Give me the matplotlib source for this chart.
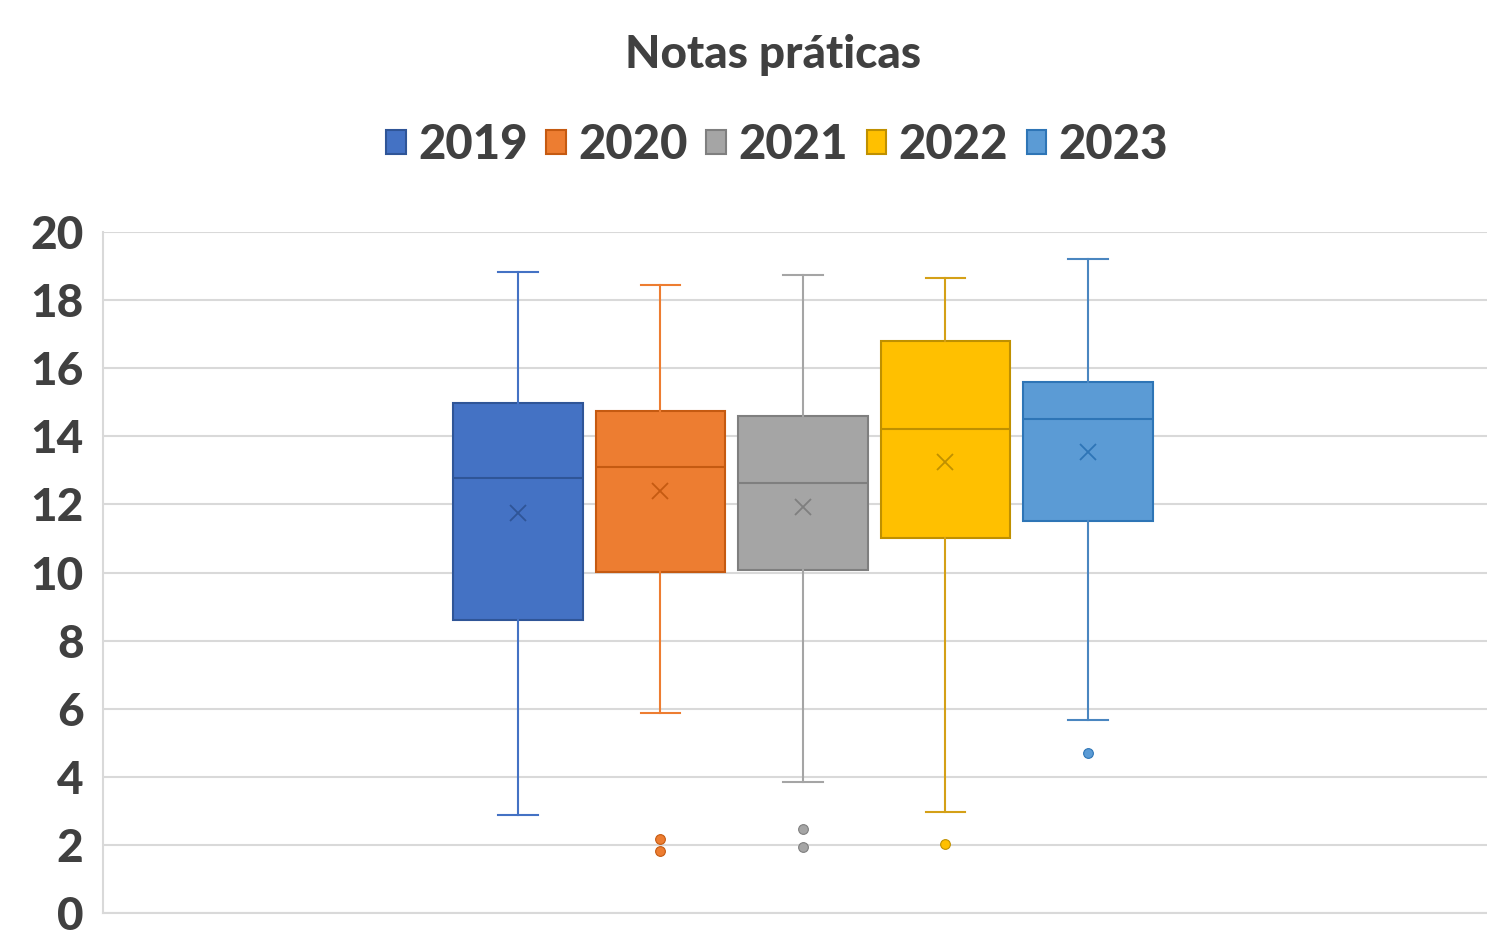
import matplotlib
matplotlib.use("Agg")
import matplotlib.pyplot as plt
from matplotlib.patches import Patch

years = ["2019", "2020", "2021", "2022", "2023"]
whislo = [2.88, 5.87, 3.85, 2.97, 5.67]
q1 = [8.6, 10.01, 10.07, 11.01, 11.51]
med = [12.78, 13.10, 12.63, 14.21, 14.51]
mean = [11.75, 12.39, 11.92, 13.25, 13.54]
q3 = [14.98, 14.74, 14.6, 16.8, 15.6]
whishi = [18.83, 18.44, 18.74, 18.65, 19.21]
fliers = [[], [2.17, 1.82], [2.47, 1.94], [2.03], [4.70]]

colors = ["#4472C4", "#ED7D31", "#A5A5A5", "#FFC000", "#5B9BD5"]
edges = ["#2F5597", "#C55A11", "#7F7F7F", "#BF9000", "#2E75B6"]
lines = ["#4472C4", "#ED7D31", "#A5A5A5", "#D4A017", "#4A86C0"]

plt.rcParams['font.family'] = ['Lato', 'DejaVu Sans']
fig = plt.figure(figsize=(14.87, 9.31), dpi=100)
ax = fig.add_axes([103/1487, (931-913)/931, (1503-103)/1487, (913-232)/931])

for i, y in enumerate(years):
    st = dict(med=med[i], q1=q1[i], q3=q3[i], whislo=whislo[i], whishi=whishi[i],
              fliers=fliers[i], mean=mean[i], label=y)
    ax.bxp([st], positions=[i + 1], widths=0.91, patch_artist=True, showmeans=True,
           boxprops=dict(facecolor=colors[i], edgecolor=edges[i], linewidth=1.5),
           medianprops=dict(color=edges[i], linewidth=1.5),
           whiskerprops=dict(color=lines[i], linewidth=1.5),
           capprops=dict(color=lines[i], linewidth=1.5),
           capwidths=0.28,
           meanprops=dict(marker='x', markeredgecolor=edges[i], markersize=12, markeredgewidth=1.3),
           flierprops=dict(marker='o', markerfacecolor=colors[i], markeredgecolor=edges[i],
                           markersize=7, markeredgewidth=0.8),
           zorder=3)

ax.set_xlim(3 - 700/142.5, 3 + 700/142.5)
ax.set_ylim(0, 20)
ax.set_yticks(range(0, 21, 2))
ax.set_xticks([])
ax.yaxis.grid(True, color="#D9D9D9", linewidth=1.5, zorder=0)
ax.set_axisbelow(True)
for s in ["top", "right"]:
    ax.spines[s].set_visible(False)
ax.spines["left"].set_color("#D9D9D9")
ax.spines["left"].set_linewidth(1.5)
ax.spines["bottom"].set_color("#D9D9D9")
ax.spines["bottom"].set_linewidth(1.5)
ax.tick_params(axis='y', length=0, pad=14, labelsize=33, labelcolor="#404040")
for t in ax.get_yticklabels():
    t.set_fontweight("black")

fig.text(0.52, 1 - 55/931, "Notas práticas", ha="center", va="center",
         fontsize=33, fontweight="black", color="#404040")

handles = [Patch(facecolor=colors[i], edgecolor=edges[i], linewidth=1.5) for i in range(5)]
leg = fig.legend(handles, years, loc="center", bbox_to_anchor=(777/1487, 1 - 145/931),
                 ncol=5, frameon=False, handlelength=0.42, handleheight=0.42,
                 handletextpad=0.25, columnspacing=0.4,
                 prop=dict(family=['Lato', 'DejaVu Sans'], weight="black", size=34))
for t in leg.get_texts():
    t.set_color("#404040")

fig.savefig("out.png", dpi=100)
